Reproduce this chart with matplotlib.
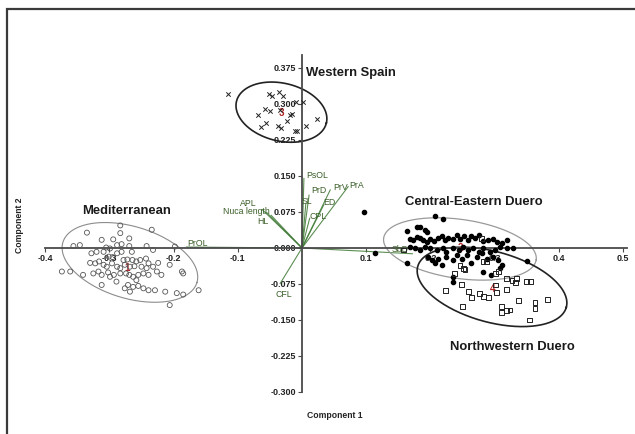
import numpy as np
import matplotlib
matplotlib.use("Agg")
import matplotlib.pyplot as plt
from matplotlib.patches import Rectangle

plt.rcParams['font.family'] = ['Liberation Sans', 'DejaVu Sans']

# --- scores (Component 1, Component 2) ---
west_x = [-0.115, -0.052, -0.047, -0.036, -0.030, -0.058, -0.050, -0.068, -0.056, -0.064,
          -0.038, -0.033, -0.024, -0.019, -0.034, -0.015, -0.011, -0.008, 0.007, 0.023,
          -0.009, 0.001]
west_y = [0.320, 0.320, 0.317, 0.325, 0.317, 0.289, 0.286, 0.277, 0.261, 0.253,
          0.255, 0.249, 0.265, 0.277, 0.287, 0.279, 0.244, 0.244, 0.254, 0.268,
          0.304, 0.305]

med_x = [-0.283, -0.335, -0.283, -0.234, -0.312, -0.294, -0.269, -0.346, -0.356, -0.305,
         -0.299, -0.288, -0.281, -0.269, -0.242, -0.232, -0.328, -0.320, -0.309, -0.301,
         -0.295, -0.288, -0.281, -0.265, -0.278, -0.272, -0.264, -0.258, -0.252, -0.243,
         -0.239, -0.330, -0.322, -0.316, -0.309, -0.304, -0.296, -0.288, -0.283, -0.276,
         -0.268, -0.261, -0.250, -0.242, -0.232, -0.224, -0.374, -0.361, -0.341, -0.325,
         -0.317, -0.312, -0.302, -0.299, -0.293, -0.283, -0.274, -0.269, -0.263, -0.255,
         -0.247, -0.239, -0.226, -0.219, -0.206, -0.187, -0.185, -0.312, -0.276, -0.271,
         -0.263, -0.255, -0.247, -0.239, -0.229, -0.213, -0.195, -0.161, -0.268, -0.206,
         -0.289, -0.258, -0.185, -0.198]
med_y = [0.047, 0.032, 0.031, 0.038, 0.017, 0.018, 0.020, 0.006, 0.004, 0.001,
         -0.001, 0.006, 0.008, 0.004, 0.004, -0.004, -0.011, -0.008, -0.008, -0.018,
         -0.019, -0.011, -0.008, -0.008, -0.025, -0.024, -0.025, -0.028, -0.025, -0.022,
         -0.032, -0.031, -0.032, -0.028, -0.035, -0.039, -0.032, -0.039, -0.042, -0.035,
         -0.039, -0.038, -0.039, -0.042, -0.039, -0.031, -0.049, -0.049, -0.056, -0.053,
         -0.049, -0.056, -0.051, -0.060, -0.056, -0.053, -0.053, -0.056, -0.060, -0.056,
         -0.053, -0.056, -0.049, -0.056, -0.035, -0.049, -0.053, -0.077, -0.084, -0.077,
         -0.081, -0.079, -0.084, -0.088, -0.088, -0.091, -0.094, -0.088, -0.091, -0.119,
         -0.070, -0.067, -0.097, 0.003]

ce_x = [0.096, 0.207, 0.220, 0.163, 0.179, 0.184, 0.192, 0.194, 0.168, 0.173,
        0.179, 0.184, 0.189, 0.194, 0.199, 0.206, 0.212, 0.218, 0.223, 0.228,
        0.235, 0.241, 0.246, 0.252, 0.259, 0.263, 0.270, 0.275, 0.282, 0.290,
        0.297, 0.303, 0.311, 0.319, 0.329, 0.168, 0.176, 0.184, 0.192, 0.199,
        0.210, 0.220, 0.225, 0.236, 0.244, 0.251, 0.259, 0.267, 0.275, 0.282,
        0.293, 0.301, 0.308, 0.319, 0.114, 0.163, 0.197, 0.202, 0.207, 0.212,
        0.218, 0.225, 0.236, 0.241, 0.249, 0.257, 0.264, 0.272, 0.280, 0.288,
        0.298, 0.306, 0.311, 0.309, 0.282, 0.295, 0.236, 0.236, 0.350]
ce_y = [0.074, 0.067, 0.060, 0.035, 0.043, 0.044, 0.038, 0.034, 0.018, 0.017,
        0.022, 0.020, 0.017, 0.013, 0.018, 0.015, 0.020, 0.024, 0.017, 0.020,
        0.018, 0.027, 0.018, 0.024, 0.017, 0.025, 0.020, 0.027, 0.015, 0.017,
        0.018, 0.013, 0.010, 0.017, 0.001, 0.003, -0.001, -0.004, 0.003, -0.001,
        -0.004, 0.001, -0.008, -0.001, -0.004, 0.003, -0.004, 0.001, -0.008, -0.001,
        -0.008, -0.004, 0.003, -0.001, -0.010, -0.031, -0.018, -0.025, -0.032, -0.022,
        -0.035, -0.018, -0.025, -0.015, -0.022, -0.015, -0.032, -0.018, -0.011, -0.022,
        -0.018, -0.025, -0.035, -0.042, -0.049, -0.056, -0.060, -0.070, -0.028]

nw_x = [0.158, 0.246, 0.254, 0.288, 0.301, 0.306, 0.319, 0.327, 0.334, 0.332,
        0.350, 0.356, 0.238, 0.223, 0.249, 0.259, 0.264, 0.277, 0.283, 0.290,
        0.301, 0.303, 0.318, 0.250, 0.311, 0.311, 0.318, 0.324, 0.337, 0.363,
        0.363, 0.382, 0.355, 0.280, 0.251, 0.282]
nw_y = [-0.004, -0.036, -0.045, -0.029, -0.053, -0.049, -0.063, -0.067, -0.063, -0.072,
        -0.070, -0.070, -0.053, -0.089, -0.076, -0.091, -0.103, -0.094, -0.101, -0.103,
        -0.077, -0.093, -0.086, -0.122, -0.122, -0.135, -0.131, -0.129, -0.110, -0.114,
        -0.126, -0.108, -0.150, 0.020, -0.042, -0.028]

# group names, label anchors, centroid numbers
groups = ["Mediterranean", "Central-Eastern Duero", "Western Spain", "Northwestern Duero"]
group_lab_x = [-0.274, 0.268, 0.006, 0.327]
group_lab_y = [0.077, 0.096, 0.365, -0.206]
centroid_x = [-0.272, 0.246, -0.032, 0.297]
centroid_y = [-0.042, 0.000, 0.281, -0.086]

# 95% ellipses: centre, semi-axes (x units), on-screen tilt in degrees
ell_cx = [-0.268, 0.246, -0.032, 0.296]
ell_cy = [-0.030, -0.002, 0.283, -0.081]
ell_a = [0.109, 0.120, 0.072, 0.120]
ell_b = [0.056, 0.046, 0.045, 0.055]
ell_ang = [-16.7, -8.1, -13.6, -15.4]

# variable loadings (line ends) and their labels
var_names = ["PsOL", "PrD", "SL", "PrV", "PrA", "ED", "CPL", "APL", "Nuca length", "HL",
             "PrOL", "CFL", "SbD"]
var_x = [0.003, 0.011, 0.006, 0.044, 0.072, 0.034, 0.012, -0.062, -0.055, -0.048,
         -0.180, -0.034, 0.172]
var_y = [0.145, 0.110, 0.093, 0.121, 0.128, 0.090, 0.062, 0.080, 0.074, 0.068,
         0.002, -0.074, -0.012]
var_lab_x = [0.006, 0.015, -0.001, 0.048, 0.074, 0.033, 0.011, -0.097, -0.123, -0.069,
             -0.178, -0.041, 0.139]
var_lab_y = [0.152, 0.119, 0.097, 0.126, 0.131, 0.094, 0.065, 0.093, 0.077, 0.056,
             0.009, -0.096, -0.004]

x_ticks = [-0.4, -0.3, -0.2, -0.1, 0.1, 0.2, 0.3, 0.4, 0.5]
y_ticks = [-0.300, -0.225, -0.150, -0.075, 0.000, 0.075, 0.150, 0.225, 0.300, 0.375]

fig = plt.figure(figsize=(6.35, 4.34), dpi=100)
ax = fig.add_axes([0.0307, 0.0636, 0.9605, 0.8295])
ax.set_xlim(-0.44, 0.51)
ax.set_ylim(-0.33, 0.42)

# axes crossing at the origin
for s in ['top', 'right']:
    ax.spines[s].set_visible(False)
ax.spines['left'].set_position(('data', 0))
ax.spines['bottom'].set_position(('data', 0))
ax.spines['left'].set_bounds(-0.3, 0.402)
ax.spines['bottom'].set_bounds(-0.4, 0.507)
for s in ['left', 'bottom']:
    ax.spines[s].set_color('#4a4a4a')
    ax.spines[s].set_linewidth(1.3)
ax.set_xticks(x_ticks)
ax.set_xticklabels([f"{v:.1f}" for v in x_ticks])
ax.set_yticks(y_ticks)
ax.set_yticklabels([f"{v:.3f}" for v in y_ticks])
ax.tick_params(axis='both', direction='out', length=3, width=0.8, color='#4a4a4a',
               labelsize=6.5, labelcolor='#222222', pad=1.5)
for lab in ax.get_xticklabels() + ax.get_yticklabels():
    lab.set_fontweight('bold')

# loadings
for vx, vy in zip(var_x, var_y):
    ax.plot([0, vx], [0, vy], color='#3f7a35', lw=0.8, alpha=0.85, zorder=2)
for name, lx, ly in zip(var_names, var_lab_x, var_lab_y):
    ax.text(lx, ly, name, fontsize=6.3, color='#3a5f28', ha='left', va='center', zorder=3)

# ellipses, drawn so the tilt matches the screen
fig.canvas.draw()
bb = ax.get_window_extent()
k = (bb.width / 0.95) / (bb.height / 0.75)
ell_col = ['#8c8c8c', '#9a9a9a', '#222222', '#222222']
ell_lw = [0.8, 0.9, 1.2, 1.2]
t = np.linspace(0, 2 * np.pi, 300)
for cx, cy, a, b, ang, c, lw in zip(ell_cx, ell_cy, ell_a, ell_b, ell_ang, ell_col, ell_lw):
    r = np.radians(ang)
    u, v = a * np.cos(t), b * np.sin(t)
    ex = cx + u * np.cos(r) - v * np.sin(r)
    ey = cy + (u * np.sin(r) + v * np.cos(r)) * k
    ax.plot(ex, ey, color=c, lw=lw, zorder=2)

# centroid numbers (red)
for i, (gx, gy) in enumerate(zip(centroid_x, centroid_y)):
    ax.text(gx, gy, str(i + 1), color='#b02020', fontsize=7, ha='center', va='center',
            fontweight='bold', zorder=3)

# scores
ax.scatter(med_x, med_y, s=13, facecolors='none', edgecolors='#555555', linewidths=0.6, zorder=4)
ax.scatter(ce_x, ce_y, s=9, color='black', zorder=4)
ax.scatter(nw_x, nw_y, s=12, marker='s', facecolors='none', edgecolors='#222222',
           linewidths=0.7, zorder=4)
ax.scatter(west_x, west_y, s=10, marker='x', color='#222222', linewidths=0.7, zorder=4)

# group labels
ha_list = ['center', 'center', 'left', 'center']
for name, gx, gy, ha in zip(groups, group_lab_x, group_lab_y, ha_list):
    ax.text(gx, gy, name, fontsize=9.4, fontweight='bold', ha=ha, va='center',
            color='#1a1a1a', zorder=5)

fig.text(335 / 635, 1 - 415 / 434, "Component 1", fontsize=6.2, fontweight='bold',
         ha='center', va='center', color='#222222')
fig.text(20 / 635, 1 - 225 / 434, "Component 2", fontsize=6.2, fontweight='bold',
         ha='center', va='center', rotation=90, color='#222222')

# outer frame of the original figure
fig.add_artist(Rectangle((6.5 / 635, -0.05), 1.1, 1.05 - 9 / 434, transform=fig.transFigure,
                         fill=False, lw=1.6, edgecolor='#3a3a3a', clip_on=False))

fig.savefig("out.png", dpi=100)
